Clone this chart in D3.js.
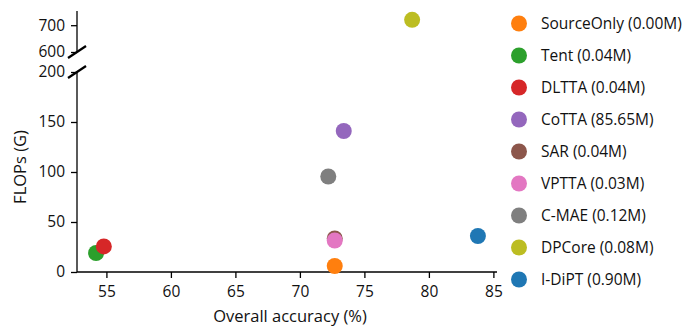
<!DOCTYPE html>
<html>
<head>
<meta charset="utf-8">
<script src="https://cdn.jsdelivr.net/npm/d3@7"></script>
<style>
  body { margin: 0; background: #fff; }
  text { font-family: "Open Sans", sans-serif; fill: #111; }
</style>
</head>
<body>
<svg id="chart" width="692" height="328"></svg>
<script>
// data
const methods = ["SourceOnly", "Tent", "DLTTA", "CoTTA", "SAR", "VPTTA", "C-MAE", "DPCore", "I-DiPT"];
const params = ["0.00M", "0.04M", "0.04M", "85.65M", "0.04M", "0.03M", "0.12M", "0.08M", "0.90M"];
const accuracy = [72.7, 54.2, 54.8, 73.4, 72.7, 72.7, 72.2, 78.7, 83.8];
const flops = [6, 19, 25.6, 141, 33.5, 31.5, 95.5, 720, 36];
const colors = ["#ff7f0e", "#2ca02c", "#d62728", "#9467bd", "#8c564b", "#e377c2", "#7f7f7f", "#bcbd22", "#1f77b4"];
const xTicks = [55, 60, 65, 70, 75, 80, 85];
const lowTicks = [0, 50, 100, 150, 200];
const highTicks = [600, 700];

const svg = d3.select("#chart");
const left = 77, right = 497;
const fontSize = 15.5;

const x = d3.scaleLinear().domain([52.72, 85.28]).range([left, right]);
const yLow = d3.scaleLinear().domain([0, 200]).range([272, 72]);
const yHigh = d3.scaleLinear().domain([600, 753]).range([52, 11]);

// bottom panel
const gx = svg.append("g").attr("transform", "translate(0,272)")
  .call(d3.axisBottom(x).tickValues(xTicks).tickSize(6).tickPadding(8));
const gLow = svg.append("g").attr("transform", `translate(${left},0)`)
  .call(d3.axisLeft(yLow).tickValues(lowTicks).tickSize(6).tickPadding(6));
const gHigh = svg.append("g").attr("transform", `translate(${left},0)`)
  .call(d3.axisLeft(yHigh).tickValues(highTicks).tickSize(6).tickPadding(6));

[gx, gLow, gHigh].forEach(g => {
  g.select(".domain").attr("stroke", "#000").attr("stroke-width", 1.3);
  g.selectAll(".tick line").attr("stroke", "#000").attr("stroke-width", 1.3);
  g.selectAll("text").style("font-size", fontSize + "px").attr("fill", "#111")
    .style("font-family", '"Open Sans", sans-serif');
});
// remove outer tick caps of domain paths
gx.select(".domain").attr("d", `M${left},0H${right}`);
gLow.select(".domain").attr("d", `M0,${yLow(0)}V${yLow(200)}`);
gHigh.select(".domain").attr("d", `M0,${yHigh(600)}V${yHigh(753)}`);

// break marks
[yHigh(600), yLow(200)].forEach(yy => {
  svg.append("line")
    .attr("x1", left - 9).attr("y1", yy + 6)
    .attr("x2", left + 9).attr("y2", yy - 6)
    .attr("stroke", "#000").attr("stroke-width", 2.2);
});

// points
const pts = methods.map((m, i) => ({ m, acc: accuracy[i], f: flops[i], c: colors[i] }));
svg.append("g").selectAll("circle")
  .data(pts)
  .join("circle")
    .attr("cx", d => x(d.acc))
    .attr("cy", d => d.f >= 600 ? yHigh(d.f) : yLow(d.f))
    .attr("r", 8)
    .attr("fill", d => d.c);

// axis labels
svg.append("text")
  .attr("x", 290).attr("y", 322)
  .attr("text-anchor", "middle")
  .style("font-size", "16.5px")
  .text("Overall accuracy (%)");
svg.append("text")
  .attr("transform", "translate(26,167) rotate(-90)")
  .attr("text-anchor", "middle")
  .style("font-size", "16.5px")
  .text("FLOPs (G)");

// legend
const legend = svg.append("g").selectAll("g")
  .data(pts)
  .join("g")
    .attr("transform", (d, i) => `translate(519,${23.5 + i * 32})`);
legend.append("circle").attr("r", 8).attr("fill", d => d.c);
legend.append("text")
  .attr("x", 22).attr("dy", "0.35em")
  .style("font-size", fontSize + "px")
  .text((d, i) => `${d.m} (${params[i]})`);
</script>
</body>
</html>
